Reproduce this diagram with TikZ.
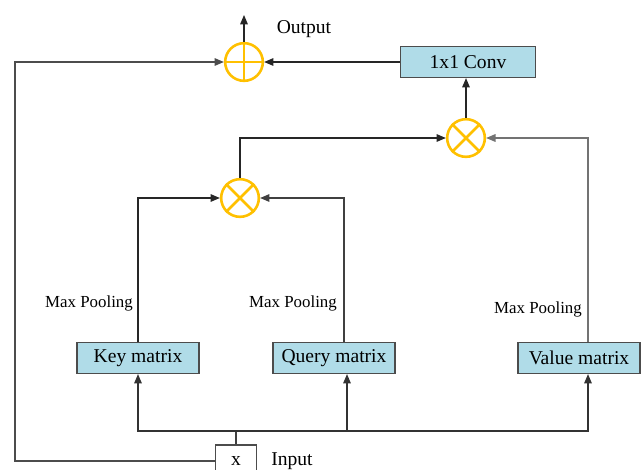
\documentclass[tikz,border=0pt]{standalone}
\usepackage{fontspec}
\setmainfont{Liberation Serif}
\usepackage{xcolor}
\usetikzlibrary{positioning,arrows.meta,calc}

\definecolor{matblue}{HTML}{B0DCE8}
\definecolor{opyellow}{HTML}{FFC000}

\begin{document}
\begin{tikzpicture}[x=0.03cm,y=-0.03cm,>={Triangle[length=8pt,width=6.5pt]},
                    line width=1pt,
                    mat node/.style={draw=black!70,fill=matblue,minimum width=3.66cm,minimum height=0.93cm,
                                     inner sep=0pt,font=\fontsize{16.7}{20}\selectfont},
                    op node/.style={circle,draw=opyellow,line width=2.2pt,minimum size=1.13cm,inner sep=0pt},
                    pool label/.style={font=\fontsize{14.4}{17}\selectfont},
                    plain label/.style={font=\fontsize{16.7}{20}\selectfont}]
\useasboundingbox (0,0) rectangle (644,469);
%operators
  \node[op node] (add) at (244,62) {};
  \draw[opyellow,line width=2.2pt] (add.north) -- (add.south) (add.west) -- (add.east);
  \node[op node] (mul2) at (466,138) {};
  \draw[opyellow,line width=2.2pt] (mul2.north west) -- (mul2.south east) (mul2.north east) -- (mul2.south west);
  \node[op node] (mul1) at (240,198) {};
  \draw[opyellow,line width=2.2pt] (mul1.north west) -- (mul1.south east) (mul1.north east) -- (mul1.south west);
%boxes
  \node[mat node,minimum width=4.05cm] (conv) at (468,62) {1x1 Conv};
  \node[mat node] (key) at (138,358) {Key matrix};
  \node[mat node] (query) at (334,358) {Query matrix};
  \node[mat node] (value) at (579,358) {Value matrix};
  \node[draw=black!70,fill=white,minimum width=1.23cm,minimum height=0.96cm,inner sep=0pt,
        font=\fontsize{16.7}{20}\selectfont] (xin) at (236,461) {x};
%labels
  \node[plain label] (outlab) at (304,29) {Output};
  \node[plain label] (inlab) at (292,461) {Input};
  \node[pool label] (pool1) at (89,303) {Max Pooling};
  \node[pool label] (pool2) at (293,303) {Max Pooling};
  \node[pool label] (pool3) at (538,309) {Max Pooling};

  \coordinate (bus) at (236,431);
  \coordinate (loop) at (15,62);
  \coordinate (out) at (244,15);

  \draw[black!75] (xin.north) -- (bus);
  \draw[black!75] (bus -| key.south) -- (bus -| value.south);
  \draw[->,black!80] (bus) -| (key.south);
  \draw[->,black!80] (bus) -| ([xshift=0.39cm]query.south);
  \draw[->,black!80] (bus) -| ([xshift=0.27cm]value.south);
  \draw[->,black!70] (xin.west) -| (loop) -- (add.west);

  \draw[->,black!85] (key.north) |- (mul1.west);
  \draw[->,black!75] ([xshift=0.3cm]query.north) |- (mul1.east);
  \draw[->,black!55] ([xshift=0.27cm]value.north) |- (mul2.east);
  \draw[->,black!85] (mul1.north) |- (mul2.west);
  \draw[->,black!85] (mul2.north) -- (mul2.north |- conv.south);
  \draw[->,black!85] (conv.west) -- (add.east);
  \draw[->,black!85] (add.north) -- (out);
\end{tikzpicture}
\end{document}
